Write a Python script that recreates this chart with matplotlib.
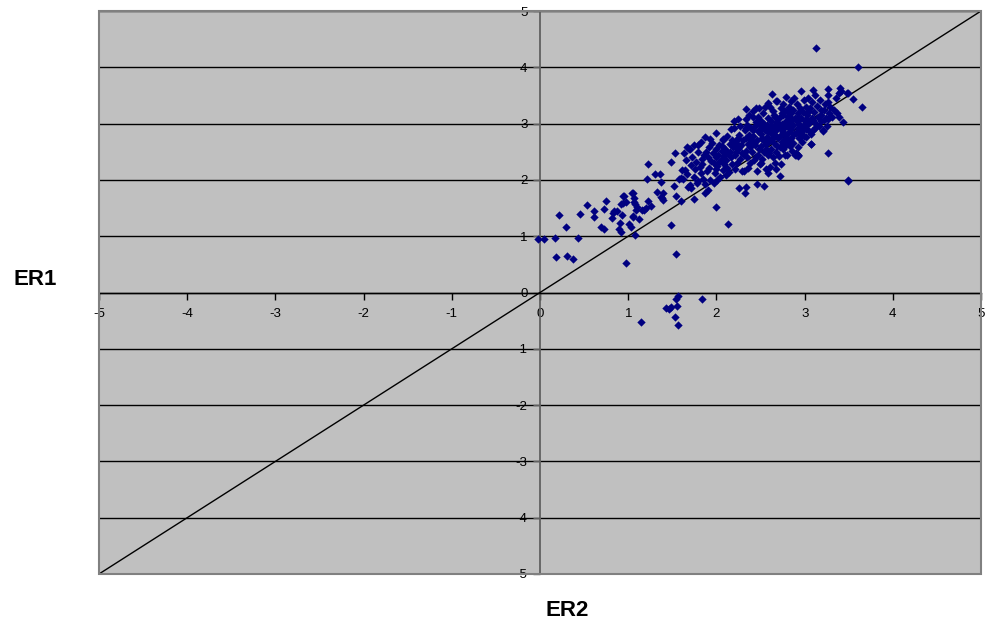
import numpy as np
import matplotlib.pyplot as plt
from matplotlib.patches import Rectangle

plt.rcParams['axes.unicode_minus'] = False

# ER2 (x), ER1 (y) pairs, grouped by region
sparse_left = [(-0.02, 0.95), (0.04, 0.95), (0.17, 0.97), (0.21, 1.38), (0.18, 0.63), (0.31, 0.65),
               (0.37, 0.60), (0.29, 1.16), (0.43, 0.97), (0.45, 1.40), (0.53, 1.55), (0.61, 1.45),
               (0.61, 1.34), (0.69, 1.17), (0.72, 1.13), (0.72, 1.48), (0.75, 1.63), (0.82, 1.33),
               (0.83, 1.42), (0.87, 1.45), (0.89, 1.12), (0.92, 1.08), (0.91, 1.24), (0.94, 1.72),
               (0.92, 1.58), (0.98, 1.60), (0.97, 0.52), (1.01, 1.22), (1.03, 1.17), (1.05, 1.34),
               (1.04, 1.76), (1.06, 1.67), (1.08, 1.58), (1.10, 1.51), (1.09, 1.47), (1.08, 1.02),
               (1.12, 1.30), (1.18, 1.47), (1.22, 1.63), (1.26, 1.54), (1.33, 1.78), (1.38, 1.67),
               (1.39, 1.76), (1.49, 1.20), (1.54, 0.68), (0.84, 1.44), (0.93, 1.38), (1.05, 1.35),
               (0.95, 1.71), (0.94, 1.59), (1.06, 1.61), (1.16, 1.47), (1.20, 1.50), (1.37, 1.69),
               (1.39, 1.64), (1.54, 1.71), (1.60, 1.63), (1.74, 1.66), (1.05, 1.77)]
below_zero = [(1.14, -0.52), (1.43, -0.28), (1.46, -0.30), (1.48, -0.25), (1.55, -0.24),
              (1.54, -0.12), (1.56, -0.07), (1.53, -0.44), (1.56, -0.58), (1.84, -0.12)]
lower_edge = [(1.22, 2.29), (1.49, 2.31), (1.53, 2.47), (1.67, 2.59), (1.70, 2.54), (1.79, 2.62),
              (1.30, 2.10), (1.36, 2.10), (1.21, 2.01), (1.37, 1.96), (1.52, 1.90), (1.57, 2.02),
              (1.60, 2.03), (1.61, 2.18), (1.71, 1.85), (1.70, 1.91), (1.79, 1.98), (1.82, 2.12),
              (1.87, 1.76), (1.90, 1.82), (1.93, 2.00), (1.97, 1.94), (1.99, 1.51), (2.13, 1.21),
              (2.26, 1.85), (2.33, 1.88), (2.32, 1.76), (2.46, 1.93), (2.54, 1.89), (2.31, 2.15),
              (2.46, 2.15), (2.59, 2.12), (2.72, 2.07), (2.61, 2.23), (2.73, 2.29), (2.80, 2.44),
              (2.90, 2.47), (2.92, 2.59), (3.49, 2.00), (3.49, 1.98), (3.26, 2.47), (2.89, 2.45),
              (2.93, 2.42), (3.07, 2.64)]
core_a = [(1.62, 2.02), (1.64, 2.18), (1.66, 2.35), (1.63, 2.48), (1.68, 1.88), (1.67, 2.10),
          (1.69, 2.55), (1.71, 2.26), (1.72, 2.40), (1.74, 2.05), (1.75, 2.62), (1.76, 2.20),
          (1.78, 1.95), (1.77, 2.32), (1.79, 2.50), (1.81, 2.23), (1.83, 2.68), (1.84, 2.29),
          (1.85, 2.02), (1.86, 2.45), (1.87, 2.76), (1.88, 2.50), (1.89, 2.15), (1.84, 2.38),
          (1.87, 1.93), (1.90, 2.41), (1.91, 2.58), (1.92, 2.22), (1.94, 2.33), (1.95, 2.65),
          (1.96, 2.48), (1.98, 2.12), (1.99, 2.55), (1.93, 2.72), (1.97, 2.30), (1.99, 2.40),
          (2.00, 2.83), (2.01, 2.25), (2.02, 2.45), (2.03, 2.62), (2.04, 2.05), (2.05, 2.36),
          (2.06, 2.52), (2.07, 2.18), (2.08, 2.70), (2.09, 2.42), (2.02, 2.30), (2.06, 2.60),
          (2.09, 2.28), (2.01, 1.99), (2.10, 2.55), (2.11, 2.35), (2.12, 2.78), (2.13, 2.48),
          (2.14, 2.14), (2.15, 2.63), (2.16, 2.40), (2.17, 2.90), (2.18, 2.28), (2.19, 2.58),
          (2.12, 2.22), (2.15, 2.50), (2.18, 2.70), (2.11, 2.08)]
core_b = [(2.20, 2.93), (2.21, 2.45), (2.22, 2.66), (2.23, 2.30), (2.24, 2.55), (2.25, 3.08),
          (2.26, 2.80), (2.27, 2.38), (2.28, 2.62), (2.29, 2.15), (2.22, 2.50), (2.24, 2.72),
          (2.27, 2.95), (2.29, 2.48), (2.21, 2.20), (2.26, 2.58), (2.30, 2.70), (2.32, 2.88),
          (2.33, 3.26), (2.33, 2.52), (2.34, 3.08), (2.35, 2.40), (2.35, 2.98), (2.36, 2.64),
          (2.37, 2.80), (2.38, 2.30), (2.38, 2.58), (2.39, 2.92), (2.31, 2.45), (2.36, 2.22),
          (2.39, 2.70), (2.34, 2.75), (2.37, 3.15), (2.40, 2.50), (2.41, 3.23), (2.42, 3.11),
          (2.42, 2.78), (2.43, 2.35), (2.44, 2.95), (2.44, 2.62), (2.45, 3.02), (2.46, 2.70),
          (2.47, 2.86), (2.47, 2.45), (2.48, 3.27), (2.48, 2.55), (2.49, 2.98), (2.49, 2.28),
          (2.41, 2.88), (2.43, 2.65), (2.45, 2.40), (2.47, 3.12), (2.25, 2.75), (2.00, 2.20)]
core_c = [(2.50, 2.82), (2.51, 2.60), (2.51, 3.05), (2.52, 2.38), (2.52, 2.92), (2.53, 3.18),
          (2.53, 2.70), (2.54, 2.50), (2.55, 2.88), (2.55, 3.30), (2.56, 2.64), (2.56, 2.20),
          (2.57, 2.98), (2.57, 2.76), (2.58, 3.10), (2.58, 2.45), (2.59, 3.36), (2.59, 2.85),
          (2.52, 2.75), (2.54, 3.00), (2.56, 2.55), (2.58, 2.68), (2.50, 2.30), (2.60, 2.92),
          (2.61, 2.70), (2.62, 3.05), (2.62, 2.55), (2.63, 3.52), (2.63, 2.82), (2.64, 3.22),
          (2.64, 2.40), (2.65, 2.96), (2.65, 2.65), (2.66, 3.12), (2.66, 2.30), (2.67, 2.78),
          (2.67, 3.40), (2.68, 2.88), (2.68, 2.50), (2.69, 3.02), (2.69, 3.40), (2.69, 2.60),
          (2.61, 3.30), (2.63, 2.73), (2.65, 3.15), (2.67, 2.95), (2.68, 2.20), (2.60, 2.48),
          (2.62, 2.98), (2.64, 2.86), (2.45, 3.27), (2.33, 2.92)]
core_d = [(2.70, 2.75), (2.71, 3.10), (2.71, 2.42), (2.72, 2.92), (2.73, 3.28), (2.74, 2.68),
          (2.74, 3.00), (2.75, 2.85), (2.75, 3.35), (2.76, 2.55), (2.76, 3.15), (2.77, 2.96),
          (2.77, 2.70), (2.78, 3.22), (2.78, 2.80), (2.79, 3.48), (2.79, 2.62), (2.79, 3.05),
          (2.70, 2.98), (2.72, 2.58), (2.74, 3.18), (2.76, 2.90), (2.78, 2.45), (2.73, 2.80),
          (2.80, 2.95), (2.81, 3.12), (2.81, 2.72), (2.82, 3.30), (2.82, 2.85), (2.83, 3.02),
          (2.83, 2.60), (2.84, 3.40), (2.84, 2.90), (2.85, 3.18), (2.85, 2.75), (2.86, 3.08),
          (2.86, 2.52), (2.87, 2.98), (2.87, 3.25), (2.88, 2.82), (2.88, 3.45), (2.89, 3.10),
          (2.80, 3.22), (2.83, 2.68), (2.85, 2.95), (2.87, 2.66)]
core_e = [(2.90, 2.83), (2.91, 3.05), (2.91, 3.35), (2.92, 2.92), (2.93, 3.18), (2.94, 2.75),
          (2.94, 3.00), (2.95, 3.28), (2.95, 2.88), (2.96, 3.58), (2.96, 3.10), (2.97, 2.86),
          (2.97, 2.68), (2.98, 3.20), (2.98, 2.95), (2.99, 3.42), (2.99, 2.78), (2.92, 3.12),
          (2.96, 2.80), (3.00, 3.05), (3.01, 2.90), (3.01, 3.30), (3.02, 2.76), (3.03, 3.15),
          (3.03, 2.98), (3.04, 3.45), (3.05, 2.86), (3.05, 3.22), (3.06, 3.02), (3.07, 2.82),
          (3.08, 3.38), (3.08, 3.10), (3.09, 3.60), (3.09, 2.89), (3.02, 3.08), (3.06, 3.28),
          (2.90, 2.83), (2.93, 2.45), (3.10, 3.06), (3.11, 3.20), (3.12, 2.92), (3.12, 3.51),
          (3.13, 3.00), (3.14, 3.32), (3.15, 3.12), (3.16, 2.95), (3.17, 3.42), (3.18, 3.24),
          (3.18, 3.05), (3.19, 3.15), (3.07, 2.64), (2.90, 2.45), (2.93, 2.45)]
upper_right = [(3.13, 4.34), (3.21, 2.89), (3.22, 3.06), (3.22, 3.24), (3.23, 3.35), (3.24, 3.10),
               (3.26, 3.61), (3.26, 3.51), (3.26, 3.09), (3.27, 3.39), (3.28, 3.18), (3.29, 3.30),
               (3.31, 3.12), (3.33, 3.25), (3.35, 3.45), (3.37, 3.19), (3.39, 3.12), (3.39, 3.54),
               (3.40, 3.63), (3.41, 3.58), (3.44, 3.03), (3.48, 3.54), (3.49, 3.55), (3.55, 3.43),
               (3.61, 4.01), (3.65, 3.30), (3.21, 2.87), (3.25, 2.95), (2.07, 2.72), (2.20, 3.05)]

groups = [sparse_left, below_zero, lower_edge, core_a, core_b, core_c, core_d, core_e, upper_right]
pts = np.array([p for g in groups for p in g])
er2 = pts[:, 0]
er1 = pts[:, 1]

diag = [-5, 5]
ticks = list(range(-5, 6))

fig = plt.figure(figsize=(9.85, 6.25), dpi=100)
ax = fig.add_axes([0.1005, 0.0816, 0.8955, 0.9008])
ax.set_facecolor('#C0C0C0')

ax.set_xlim(-5, 5)
ax.set_ylim(-5, 5)
ax.set_xticks(ticks)
ax.set_yticks(ticks)

# horizontal gridlines in black
ax.yaxis.grid(True, color='black', linewidth=1)
ax.set_axisbelow(True)

# axes cross at zero, Excel style
ax.spines['left'].set_position(('data', 0))
ax.spines['bottom'].set_position(('data', 0))
ax.spines['left'].set_color('#606060')
ax.spines['left'].set_linewidth(1.3)
ax.spines['bottom'].set_color('black')
ax.spines['bottom'].set_linewidth(1.0)
ax.spines['top'].set_visible(False)
ax.spines['right'].set_visible(False)
ax.add_patch(Rectangle((0, 0), 1, 1, transform=ax.transAxes, fill=False,
                       edgecolor='#808080', linewidth=1.5, clip_on=False, zorder=5))

ax.tick_params(axis='x', direction='out', length=5, width=1, pad=6, labelsize=9.5)
ax.tick_params(axis='y', direction='out', length=5, width=1, pad=4, labelsize=9.5,
               color='#606060')
for lab in ax.get_xticklabels() + ax.get_yticklabels():
    lab.set_fontfamily('Liberation Sans')

ax.plot(diag, diag, color='black', linewidth=1, zorder=3)
ax.scatter(er2, er1, marker='D', s=18, color='#000080', linewidths=0, zorder=4)

fig.text(0.036, 0.552, 'ER1', fontsize=16, fontweight='bold', family='Liberation Sans',
         ha='center', va='center')
fig.text(0.576, 0.024, 'ER2', fontsize=16, fontweight='bold', family='Liberation Sans',
         ha='center', va='center')

plt.savefig('out.png', dpi=100)
